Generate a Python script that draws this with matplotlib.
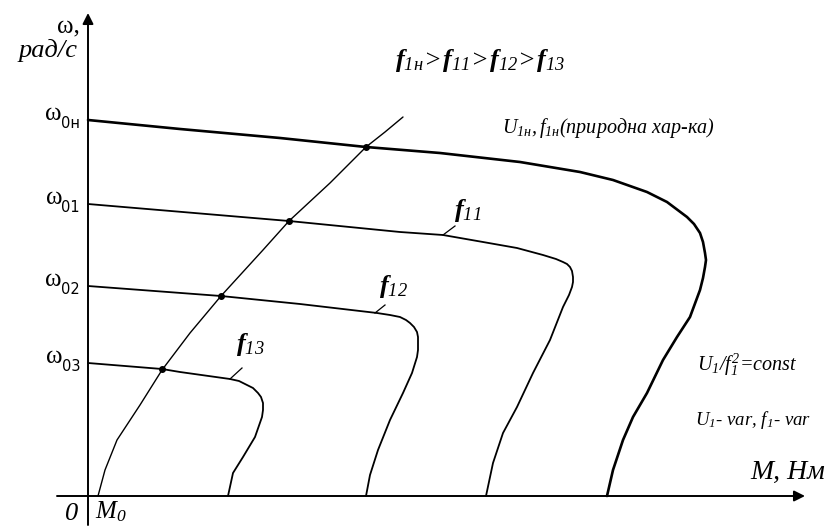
import matplotlib
matplotlib.use("Agg")
import matplotlib.pyplot as plt

plt.rcParams['mathtext.fontset'] = 'custom'
plt.rcParams['mathtext.rm'] = 'Liberation Serif:italic'
plt.rcParams['mathtext.it'] = 'Liberation Serif:italic'
plt.rcParams['mathtext.bf'] = 'Liberation Serif:bold:italic'
plt.rcParams['font.family'] = ['Liberation Serif', 'DejaVu Sans']

# Mechanical characteristics (torque M, speed omega) for several supply frequencies
M_nat = [0, 9.2, 19.2, 27.8, 35.2, 43.2, 49.2, 52.5, 55.9, 57.9, 59.9, 60.6, 61.2, 61.5,
         61.7, 61.8, 61.7, 61.5, 61.2, 60.2, 58.9, 57.5, 55.9, 54.5, 53.5, 52.5, 51.9]
w_nat = [37.6, 36.7, 35.8, 34.9, 34.3, 33.4, 32.4, 31.6, 30.4, 29.4, 27.9, 27.2, 26.3, 25.4,
         24.3, 23.6, 22.9, 21.8, 20.6, 17.9, 15.9, 13.6, 10.3, 7.9, 5.6, 2.6, 0]

M_f11 = [0, 20.1, 31.2, 35.5, 39.5, 42.9, 45.5, 46.8, 47.5, 47.9, 48.2, 48.4, 48.5, 48.5,
         48.4, 48.1, 47.5, 46.2, 44.5, 42.9, 41.5, 40.5, 39.8]
w_f11 = [29.2, 27.5, 26.4, 26.1, 25.4, 24.8, 24.1, 23.7, 23.4, 23.2, 22.9, 22.5, 21.9, 21.4,
         20.9, 20.1, 18.9, 15.6, 12.3, 8.9, 6.3, 3.3, 0]

M_f12 = [0, 13.3, 21.2, 28.9, 30.2, 31.2, 31.8, 32.2, 32.6, 32.9, 33.0, 33.0, 33.0, 32.9,
         32.4, 31.5, 30.2, 29.0, 28.2, 27.8]
w_f12 = [21.0, 20.0, 19.2, 18.3, 18.1, 17.9, 17.6, 17.3, 16.9, 16.4, 15.9, 15.3, 14.6, 13.9,
         12.3, 10.3, 7.6, 4.6, 2.1, 0]

M_f13 = [0, 7.4, 9.2, 14.2, 15.1, 15.9, 16.5, 17.0, 17.3, 17.5, 17.5, 17.4, 16.7, 15.5, 14.5, 14.0]
w_f13 = [13.3, 12.7, 12.4, 11.7, 11.5, 11.1, 10.8, 10.3, 9.9, 9.3, 8.6, 7.9, 5.9, 3.9, 2.3, 0]

# Line of operating points
M_op = [1.0, 1.7, 2.9, 5.2, 7.4, 10.2, 13.3, 17.5, 20.1, 24.2, 27.8, 29.7, 31.5]
w_op = [0, 2.6, 5.6, 9.1, 12.6, 16.3, 20.0, 24.6, 27.5, 31.3, 34.9, 36.4, 37.9]

M_pts = [7.4, 13.3, 20.1, 27.8]
w_pts = [12.7, 20.0, 27.5, 34.9]

w_ticks = [37.6, 29.2, 21.0, 13.3]
w_tick_subs = ['0н', '01', '02', '03']

fig = plt.figure(figsize=(8.35, 5.27), dpi=100)
ax = fig.add_axes([0, 0, 1, 1])
ax.set_xlim(-8.8, 74.7)
ax.set_ylim(-3.1, 49.6)
ax.axis('off')

# coordinate axes
arrow = dict(arrowstyle='-|>', mutation_scale=16, lw=1.4, color='k', shrinkA=0, shrinkB=0)
ax.annotate('', xy=(71.7, 0), xytext=(-3.1, 0), arrowprops=arrow)
ax.annotate('', xy=(0, 48.3), xytext=(0, -2.9), arrowprops=arrow)

kw = dict(color='k', solid_joinstyle='round', solid_capstyle='round')
ax.plot(M_nat, w_nat, lw=1.9, **kw)
ax.plot(M_f11, w_f11, lw=1.3, **kw)
ax.plot(M_f12, w_f12, lw=1.3, **kw)
ax.plot(M_f13, w_f13, lw=1.3, **kw)
ax.plot(M_op, w_op, lw=1.0, **kw)
ax.plot(M_pts, w_pts, 'o', color='k', ms=4)

# omega tick labels: serif omega with a narrow sans subscript
for w, s in zip(w_ticks, w_tick_subs):
    sub = ax.text(-0.8, w - 0.8, s, fontsize=10.5, ha='right', va='baseline',
                  family=['Liberation Sans Narrow', 'DejaVu Sans'])
    ax.annotate('ω', xy=(0, 0), xycoords=sub, xytext=(0.5, 8), textcoords='offset points',
                fontsize=18, ha='right', va='baseline')

ax.text(-0.8, 47.0, 'ω,', fontsize=18, ha='right', va='center')
ax.text(-1.0, 44.6, 'рад/с', fontsize=19, style='italic', ha='right', va='center')
ax.text(-1.0, -1.8, '0', fontsize=19, style='italic', ha='right', va='center')
ax.text(0.7, -1.6, r'$M_0$', fontsize=18, ha='left', va='center')
ax.text(66.2, 2.4, 'М, Нм', fontsize=20, style='italic', ha='left', va='center')

ax.text(30.7, 43.5,
        r'$\mathbf{f}_{\mathrm{1н}}\!>\!\mathbf{f}_{\mathrm{11}}\!>\!\mathbf{f}_{\mathrm{12}}\!>\!\mathbf{f}_{\mathrm{13}}$',
        fontsize=19, ha='left', va='center')
ax.text(41.4, 36.8, r'$U_{\mathrm{1н}},f_{\mathrm{1н}}$(природна хар-ка)', fontsize=14.5,
        style='italic', ha='left', va='center')
ax.text(60.9, 13.1, r'$U_{\mathrm{1}}/f_{\mathrm{1}}^{\mathrm{2}}$=const', fontsize=14.5,
        style='italic', ha='left', va='center')
ax.text(60.7, 7.6, r'$U_{\mathrm{1}}$- var, $f_{\mathrm{1}}$- var', fontsize=13.5,
        style='italic', ha='left', va='center')

# frequency labels with leader ticks
ax.text(36.6, 28.5, r'$\mathbf{f}_{\mathrm{11}}$', fontsize=19, ha='left', va='center')
ax.plot([35.5, 36.7], [26.1, 27.0], color='k', lw=0.9)
ax.text(29.1, 20.9, r'$\mathbf{f}_{\mathrm{12}}$', fontsize=19, ha='left', va='center')
ax.plot([28.7, 29.7], [18.3, 19.1], color='k', lw=0.9)
ax.text(14.8, 15.2, r'$\mathbf{f}_{\mathrm{13}}$', fontsize=19, ha='left', va='center')
ax.plot([14.2, 15.4], [11.7, 12.8], color='k', lw=0.9)

fig.savefig('out.png', dpi=100)
